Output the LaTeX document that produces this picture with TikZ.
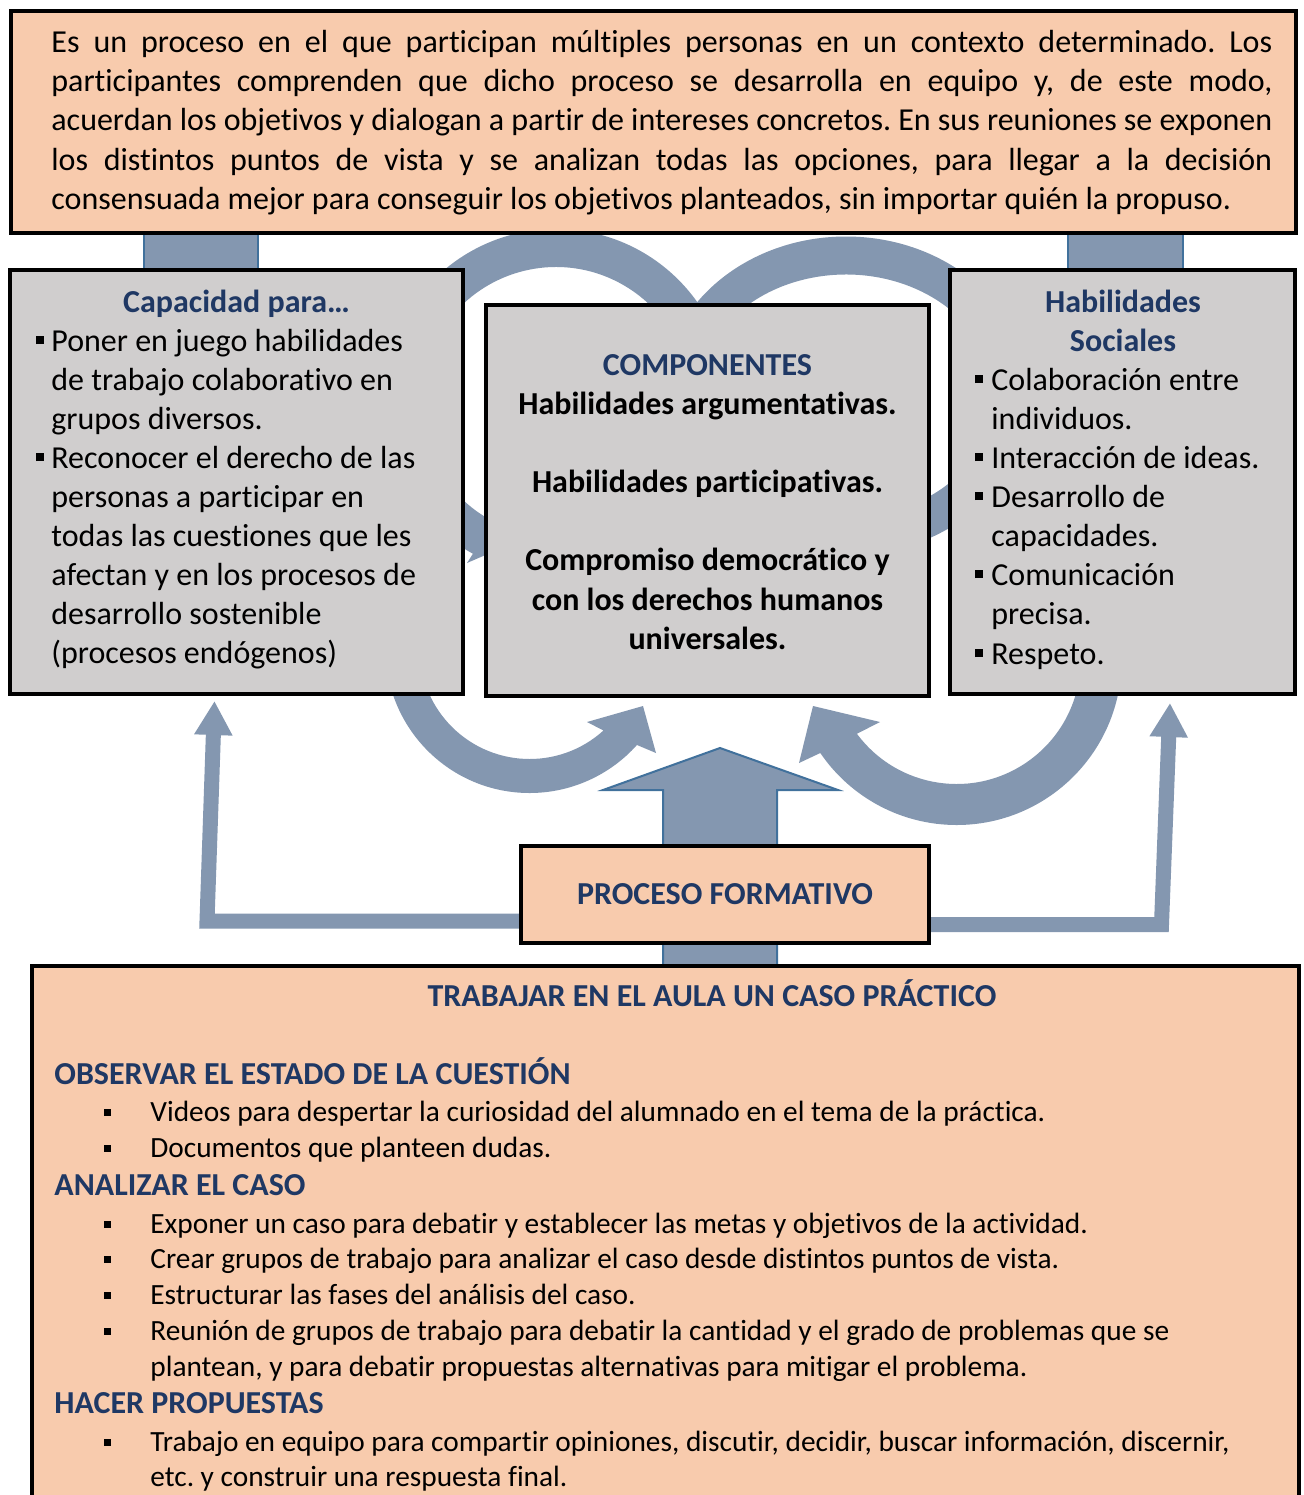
\documentclass[tikz,border=0pt]{standalone}
\usepackage{fontspec}
\setmainfont[Ligatures=NoCommon]{Carlito}
\usetikzlibrary{arrows.meta,calc}
\definecolor{peach}{HTML}{F8CBAD}
\definecolor{boxgray}{HTML}{D0CECE}
\definecolor{arrowblue}{HTML}{8497B0}
\definecolor{edgeblue}{HTML}{41719C}
\definecolor{navy}{HTML}{1F3864}
\pgfdeclarelayer{bg}
\pgfsetlayers{bg,main}
\newcommand\sqb[1]{\llap{\rule[3.5pt]{4pt}{4pt}\hspace{#1}}}
\newcommand\sqs{\llap{\rule[2.75pt]{3.5pt}{3.5pt}\hspace{19.5pt}}}
\frenchspacing
\tikzset{
  panel/.style={draw=black, line width=2.2pt, anchor=north west, inner sep=0pt, outer sep=0pt},
  peachpanel/.style={panel, fill=peach},
  graypanel/.style={panel, fill=boxgray},
  ring/.style={fill=arrowblue},
  bigtxt/.style={inner sep=0pt, font=\fontsize{16}{19.5}\selectfont},
  txt/.style={bigtxt, anchor=base west},
  ctxt/.style={bigtxt, anchor=base},
  navyhead/.style={ctxt, text=navy, font=\fontsize{16}{19.5}\selectfont\bfseries},
  boldc/.style={ctxt, font=\fontsize{16}{19.5}\selectfont\bfseries},
  stxt/.style={inner sep=0pt, anchor=base west, font=\fontsize{14.67}{18}\selectfont},
  shead/.style={stxt, text=navy, font=\fontsize{16}{19.5}\selectfont\bfseries},
  conn/.style={draw=arrowblue, line width=7.5pt, -{Triangle[width=18pt,length=17pt]}},
}
\begin{document}
\begin{tikzpicture}[x=0.5pt,y=-0.5pt]
\useasboundingbox (0,0) rectangle (1303,1495);
\clip (0,0) rectangle (1303,1495);

% ---------- boxes ----------
\node[peachpanel, minimum width=642.5pt, minimum height=111pt] (top) at (11,11) {};
\node[graypanel, minimum width=226.5pt, minimum height=212pt] (lb) at (10,270) {};
\node[graypanel, minimum width=221.5pt, minimum height=195.5pt] (mb) at (486,305) {};
\node[graypanel, minimum width=172.5pt, minimum height=212pt] (rb) at (950,270) {};
\node[peachpanel, minimum width=204pt, minimum height=48.5pt, text=navy,
      font=\fontsize{16}{19.5}\selectfont\bfseries] (pf) at (521,846) {PROCESO FORMATIVO};
\node[peachpanel, minimum width=633.5pt, minimum height=287pt] (bb) at (32,966) {};

% ---------- top text ----------
\node[txt] (top1) at (51,52) {\makebox[610.5pt][s]{Es un proceso en el que participan múltiples personas en un contexto determinado. Los}};
\node[txt] (top2) at (51,91) {\makebox[610.5pt][s]{participantes comprenden que dicho proceso se desarrolla en equipo y, de este modo,}};
\node[txt] (top3) at (51,130) {\makebox[610.5pt][s]{acuerdan los objetivos y dialogan a partir de intereses concretos. En sus reuniones se exponen}};
\node[txt] (top4) at (51,170) {\makebox[610.5pt][s]{los distintos puntos de vista y se analizan todas las opciones, para llegar a la decisión}};
\node[txt] (top5) at (51,209) {consensuada mejor para conseguir los objetivos planteados, sin importar quién la propuso.};

% ---------- left box text ----------
\node[navyhead] (lh) at (236.5,312) {Capacidad para…};
\node[txt] (l1) at (51,351) {\sqb{3.5pt}Poner en juego habilidades};
\node[txt] (l2) at (51,390) {de trabajo colaborativo en};
\node[txt] (l3) at (51,429) {grupos diversos.};
\node[txt] (l4) at (51,468) {\sqb{3.5pt}Reconocer el derecho de las};
\node[txt] (l5) at (51,507) {personas a participar en};
\node[txt] (l6) at (51,546) {todas las cuestiones que les};
\node[txt] (l7) at (51,585) {afectan y en los procesos de};
\node[txt] (l8) at (51,624) {desarrollo sostenible};
\node[txt] (l9) at (51,663) {(procesos endógenos)};

% ---------- middle box text ----------
\node[navyhead] (mh) at (707.5,375) {COMPONENTES};
\node[boldc] (m1) at (707.5,414) {Habilidades argumentativas.};
\node[boldc] (m2) at (707.5,492) {Habilidades participativas.};
\node[boldc] (m3) at (707.5,570) {Compromiso democrático y};
\node[boldc] (m4) at (707.5,610) {con los derechos humanos};
\node[boldc] (m5) at (707.5,649) {universales.};

% ---------- right box text ----------
\node[navyhead] (rh1) at (1123,312) {Habilidades};
\node[navyhead] (rh2) at (1123,351) {Sociales};
\node[txt] (r1) at (991,390) {\sqb{4pt}Colaboración entre};
\node[txt] (r2) at (991,429) {individuos.};
\node[txt] (r3) at (991,468) {\sqb{4pt}Interacción de ideas.};
\node[txt] (r4) at (991,507) {\sqb{4pt}Desarrollo de};
\node[txt] (r5) at (991,546) {capacidades.};
\node[txt] (r6) at (991,585) {\sqb{4pt}Comunicación};
\node[txt] (r7) at (991,624) {precisa.};
\node[txt] (r8) at (991,664) {\sqb{4pt}Respeto.};

% ---------- bottom box text ----------
\node[shead, anchor=base] (bt) at (712,1006) {TRABAJAR EN EL AULA UN CASO PRÁCTICO};
\node[shead] (bh1) at (54,1084) {OBSERVAR EL ESTADO DE LA CUESTIÓN};
\node[stxt] (b1) at (150,1121) {\sqs Videos para despertar la curiosidad del alumnado en el tema de la práctica.};
\node[stxt] (b2) at (150,1157) {\sqs Documentos que planteen dudas.};
\node[shead] (bh2) at (54,1195) {ANALIZAR EL CASO};
\node[stxt] (b3) at (150,1233) {\sqs Exponer un caso para debatir y establecer las metas y objetivos de la actividad.};
\node[stxt] (b4) at (150,1268) {\sqs Crear grupos de trabajo para analizar el caso desde distintos puntos de vista.};
\node[stxt] (b5) at (150,1304) {\sqs Estructurar las fases del análisis del caso.};
\node[stxt] (b6) at (150,1340) {\sqs Reunión de grupos de trabajo para debatir la cantidad y el grado de problemas que se};
\node[stxt] (b7) at (150,1376) {plantean, y para debatir propuestas alternativas para mitigar el problema.};
\node[shead] (bh3) at (54,1413) {HACER PROPUESTAS};
\node[stxt] (b8) at (150,1451) {\sqs Trabajo en equipo para compartir opiniones, discutir, decidir, buscar información, discernir,};
\node[stxt] (b9) at (150,1486) {etc. y construir una respuesta final.};

% ---------- background shapes ----------
\begin{pgfonlayer}{bg}
\fill[white] (0,0) rectangle (1303,1495);
% connectors top box -> side boxes
\fill[arrowblue] (144,225) rectangle (258,280);
\draw[edgeblue, line width=0.7pt] (144,225) -- (144,280) (258,225) -- (258,280);
\fill[arrowblue] (1068,225) rectangle (1183,280);
\draw[edgeblue, line width=0.7pt] (1068,225) -- (1068,280) (1183,225) -- (1183,280);

% top-left circular arrow
\fill[ring] (556,402) ++(0:173) arc[start angle=0, end angle=-241.3, radius=173]
  -- (467,563) -- (520,540) -- (499,505)
  -- ($(556,402)+(-241.3:135)$) arc[start angle=-241.3, end angle=0, radius=135] -- cycle;
% top-right circular arrow
\fill[ring] (846,396) ++(180:184 and 159.5) arc[start angle=180, end angle=440, x radius=184, y radius=159.5]
  -- ($(846,396)+(440:148 and 121.5)$) arc[start angle=440, end angle=180, x radius=148, y radius=121.5] -- cycle;
% bottom-left circular arrow
\fill[ring] (529.6,649) ++(180:144) arc[start angle=180, end angle=41.8, radius=144]
  -- (656,753) -- (643,706) -- (587,722)
  -- ($(529.6,649)+(47.8:110)$) arc[start angle=47.8, end angle=180, radius=110] -- cycle;
% bottom-right circular arrow
\fill[ring] (956.6,660) ++(0:165) arc[start angle=0, end angle=145.7, radius=165]
  -- (799,763) -- (813,706) -- (880,722)
  -- ($(956.6,660)+(143.5:124)$) arc[start angle=143.5, end angle=0, radius=124] -- cycle;

% big up arrow
\filldraw[fill=arrowblue, draw=edgeblue, line width=1pt]
  (663,975) -- (663,790) -- (603,790) -- (720,748) -- (838,790) -- (777,790) -- (777,975) -- cycle;

% side connectors
\coordinate (lc) at (207,921);
\coordinate (lt) at (214.5,701);
\draw[conn] (pf.west |- lc) -- (lc) -- (lt);
\coordinate (rc) at (1161.5,924.5);
\coordinate (rt) at (1170,703);
\draw[conn] (pf.east |- rc) -- (rc) -- (rt);
\end{pgfonlayer}
\end{tikzpicture}
\end{document}
